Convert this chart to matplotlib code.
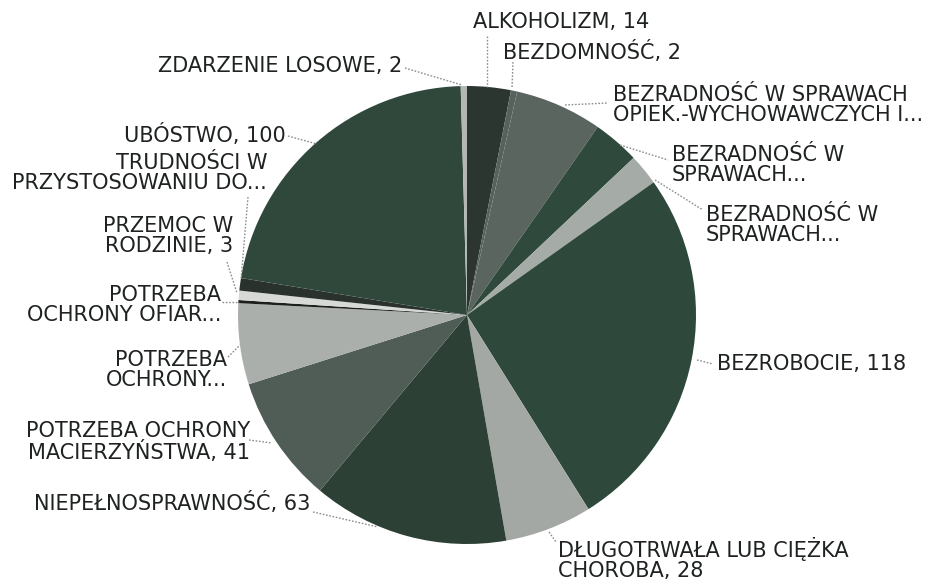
import matplotlib
matplotlib.use("Agg")
import matplotlib.pyplot as plt

# ---- data (clockwise from 12 o'clock) ----
categories = [
    "ALKOHOLIZM", "BEZDOMNOŚĆ", "BEZRADNOŚĆ W SPRAWACH OPIEK.-WYCHOWAWCZYCH I...",
    "BEZRADNOŚĆ W SPRAWACH... (1)", "BEZRADNOŚĆ W SPRAWACH... (2)", "BEZROBOCIE",
    "DŁUGOTRWAŁA LUB CIĘŻKA CHOROBA", "NIEPEŁNOSPRAWNOŚĆ",
    "POTRZEBA OCHRONY MACIERZYŃSTWA", "POTRZEBA OCHRONY...",
    "POTRZEBA OCHRONY OFIAR...", "PRZEMOC W RODZINIE",
    "TRUDNOŚCI W PRZYSTOSOWANIU DO...", "UBÓSTWO", "ZDARZENIE LOSOWE",
]
values = [14, 2, 28, 15, 10, 118, 28, 63, 41, 26, 1, 3, 4, 100, 2]

label_texts = [
    "ALKOHOLIZM, 14",
    "BEZDOMNOŚĆ, 2",
    "BEZRADNOŚĆ W SPRAWACH\nOPIEK.-WYCHOWAWCZYCH I...",
    "BEZRADNOŚĆ W\nSPRAWACH...",
    "BEZRADNOŚĆ W\nSPRAWACH...",
    "BEZROBOCIE, 118",
    "DŁUGOTRWAŁA LUB CIĘŻKA\nCHOROBA, 28",
    "NIEPEŁNOSPRAWNOŚĆ, 63",
    "POTRZEBA OCHRONY\nMACIERZYŃSTWA, 41",
    "POTRZEBA\nOCHRONY...",
    "POTRZEBA\nOCHRONY OFIAR...",
    "PRZEMOC W\nRODZINIE, 3",
    "TRUDNOŚCI W\nPRZYSTOSOWANIU DO...",
    "UBÓSTWO, 100",
    "ZDARZENIE LOSOWE, 2",
]

# ---- styles ----
colors = [
    "#2b3631", "#56625b", "#5b6560", "#2f4a3c", "#a5aba7", "#2e493c",
    "#a3a8a4", "#2d4036", "#4f5d56", "#abafac", "#1c1f1d", "#d6d9d6",
    "#2a322e", "#30483c", "#b3b8b4",
]
# label anchor positions in image pixels (x, y-center) and alignment
label_pos = [
    (473, 22, "left"), (503, 52, "left"), (613, 105, "left"), (672, 165, "left"),
    (706, 225, "left"), (717, 364, "left"), (558, 559, "left"), (310, 503, "right"),
    (250, 442, "right"), (227, 370, "right"), (221, 305, "right"), (233, 236, "right"),
    (267, 173, "right"), (286, 135, "right"), (402, 66, "right"),
]
leaders = [
    ((487, 36), (487, 87)), ((513, 62), (512, 88)), ((565, 105), (608, 103)),
    ((620, 145), (668, 160)), ((655, 180), (703, 210)), ((697, 360), (713, 364)),
    ((549, 532), (556, 542)), ((313, 512), (378, 527)), ((249, 440), (272, 443)),
    ((228, 357), (240, 345)), ((222, 302), (239, 302)), ((227, 262), (237, 293)),
    ((248, 197), (241, 280)), ((288, 136), (317, 144)), ((405, 68), (462, 85)),
]

W, H = 931, 584
def Y(y):
    return H - y

fig = plt.figure(figsize=(W / 100, H / 100), dpi=100)
fig.patch.set_facecolor("white")
ax = fig.add_axes([0, 0, 1, 1])

ax.pie(values, colors=colors, startangle=90, counterclock=False,
       center=(467, Y(315)), radius=229, frame=True,
       wedgeprops=dict(linewidth=0))
ax.set_xlim(0, W)
ax.set_ylim(0, H)
ax.set_aspect("equal")
ax.axis("off")

for (p0, p1) in leaders:
    ax.plot([p0[0], p1[0]], [Y(p0[1]), Y(p1[1])], color="#8a8f8c",
            lw=1.0, ls=(0, (1.2, 1.2)))

for txt, (x, y, ha) in zip(label_texts, label_pos):
    ax.text(x, Y(y), txt, ha=ha, va="center", fontsize=15, color="#1e2220",
            family="DejaVu Sans", linespacing=1.02, multialignment=ha)

fig.savefig("out.png", dpi=100, facecolor="white")
